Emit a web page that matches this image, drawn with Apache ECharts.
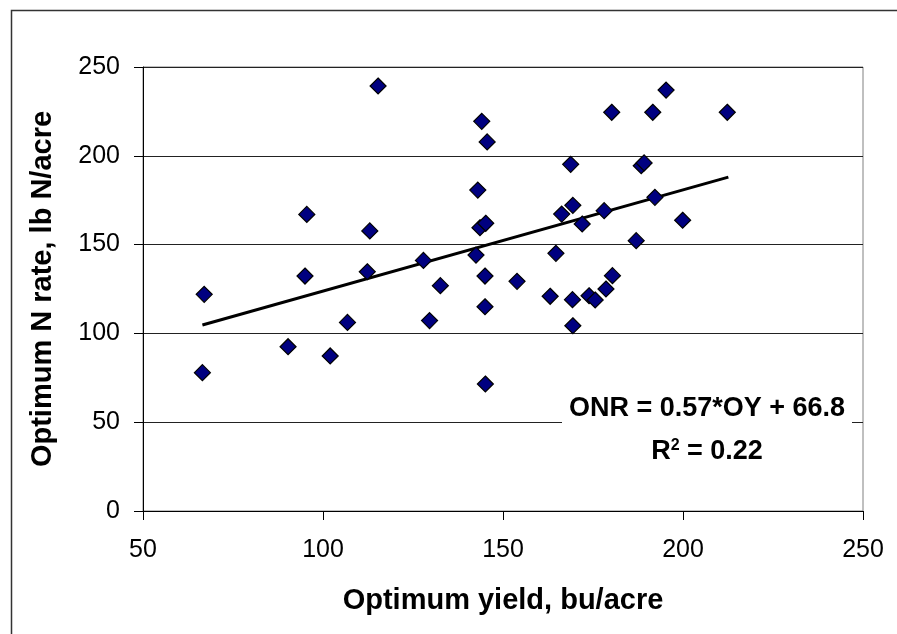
<!DOCTYPE html>
<html>
<head>
<meta charset="utf-8">
<script src="https://cdn.jsdelivr.net/npm/echarts@6/dist/echarts.min.js"></script>
<style>
html,body{margin:0;padding:0;background:#fff;}
#chart{width:897px;height:634px;}
</style>
</head>
<body>
<div id="chart"></div>
<script>
// Optimum yield (bu/acre)
var yieldX = [66.5, 67, 90.3, 95, 95.5, 102, 106.8, 112.3, 113, 115.3,
  127.9, 129.6, 132.6, 142.5, 143, 143.6, 144.1, 145.2, 145.6, 145,
  145, 145.1, 153.9, 163.1, 164.7, 166.3, 168.8, 169.4, 169.3, 169.4,
  172, 173.9, 175.6, 178.1, 178.6, 180.4, 180.2, 187, 188.4, 189.2,
  191.6, 192.2, 195.3, 199.9, 212.3];
// Optimum N rate (lb N/acre)
var rateY = [77.9, 122, 92.5, 132.3, 167, 87.3, 106.2, 134.7, 157.7, 239.3,
  141.1, 107.2, 126.9, 144.1, 180.7, 159.5, 219.4, 162, 207.8, 132.3,
  115, 71.5, 129.3, 120.9, 145.1, 167.2, 195.2, 172.1, 119, 104.3,
  161.6, 121.2, 118.8, 169.1, 125, 132.5, 224.5, 152.2, 194.4, 196,
  224.5, 176.6, 237, 163.7, 224.5];
// Trend line endpoints
var trendX = [66.5, 212.6];
var trendY = [104.7, 188.0];
var xTicks = [50, 100, 150, 200, 250];
var yTicks = [0, 50, 100, 150, 200, 250];
var eqLine1 = 'ONR = 0.57*OY + 66.8';
var eqLine2 = 'R{sup|2} = 0.22';
var xTitle = 'Optimum yield, bu/acre';
var yTitle = 'Optimum N rate, lb N/acre';

var FONT = '"Liberation Sans", Arial, sans-serif';
var pts = yieldX.map(function (x, i) { return [x, rateY[i]]; });
var trend = trendX.map(function (x, i) { return [x, trendY[i]]; });

var chart = echarts.init(document.getElementById('chart'), null, {renderer: 'canvas'});
chart.setOption({
  animation: false,
  backgroundColor: '#fff',
  grid: {left: 143, top: 67, right: 34, bottom: 123, show: true, borderColor: '#808080', borderWidth: 1, backgroundColor: 'transparent'},
  xAxis: {
    type: 'value', min: xTicks[0], max: xTicks[xTicks.length - 1], interval: 50,
    axisLine: {show: true, onZero: false, lineStyle: {color: '#000', width: 1}},
    axisTick: {show: true, inside: false, length: 9, lineStyle: {color: '#000'}},
    axisLabel: {fontFamily: FONT, fontSize: 25, color: '#000', margin: 27},
    splitLine: {show: false},
    name: xTitle, nameLocation: 'middle', nameGap: 75,
    nameTextStyle: {fontFamily: FONT, fontSize: 29, fontWeight: 'bold', color: '#000'}
  },
  yAxis: {
    type: 'value', min: yTicks[0], max: yTicks[yTicks.length - 1], interval: 50,
    axisLine: {show: true, onZero: false, lineStyle: {color: '#000', width: 1}},
    axisTick: {show: true, inside: false, length: 9, lineStyle: {color: '#000'}},
    axisLabel: {fontFamily: FONT, fontSize: 25, color: '#000', margin: 23},
    splitLine: {show: true, lineStyle: {color: '#222', width: 1}},
    name: yTitle, nameLocation: 'middle', nameGap: 86,
    nameTextStyle: {fontFamily: FONT, fontSize: 29, fontWeight: 'bold', color: '#000'}
  },
  series: [
    {
      type: 'line', data: trend, symbol: 'none', z: 3,
      lineStyle: {color: '#000', width: 3}
    },
    {
      type: 'scatter', data: pts, symbol: 'diamond', symbolSize: 16, z: 4,
      itemStyle: {color: '#000080', opacity: 1, borderColor: '#000', borderWidth: 1.2}
    }
  ],
  graphic: [
    {type: 'rect', left: 9, top: 8, z: 0, silent: true,
      shape: {width: 900, height: 640},
      style: {fill: 'none', stroke: '#333', lineWidth: 1.5}},
    {type: 'rect', z: 50, silent: true,
      shape: {x: 562, y: 392, width: 290, height: 80},
      style: {fill: '#fff'}},
    {type: 'text', z: 51, x: 707, y: 409,
      style: {text: eqLine1, fontFamily: FONT, fontSize: 27, fontWeight: 'bold', fill: '#000', textAlign: 'center', textVerticalAlign: 'middle'}},
    {type: 'text', z: 51, x: 707, y: 452,
      style: {text: eqLine2, fontFamily: FONT, fontSize: 27, fontWeight: 'bold', fill: '#000', textAlign: 'center', textVerticalAlign: 'middle',
        rich: {sup: {fontFamily: FONT, fontSize: 16, fontWeight: 'bold', fill: '#000', verticalAlign: 'top', padding: [0, 0, 12, 0]}}}}
  ]
});
</script>
</body>
</html>
